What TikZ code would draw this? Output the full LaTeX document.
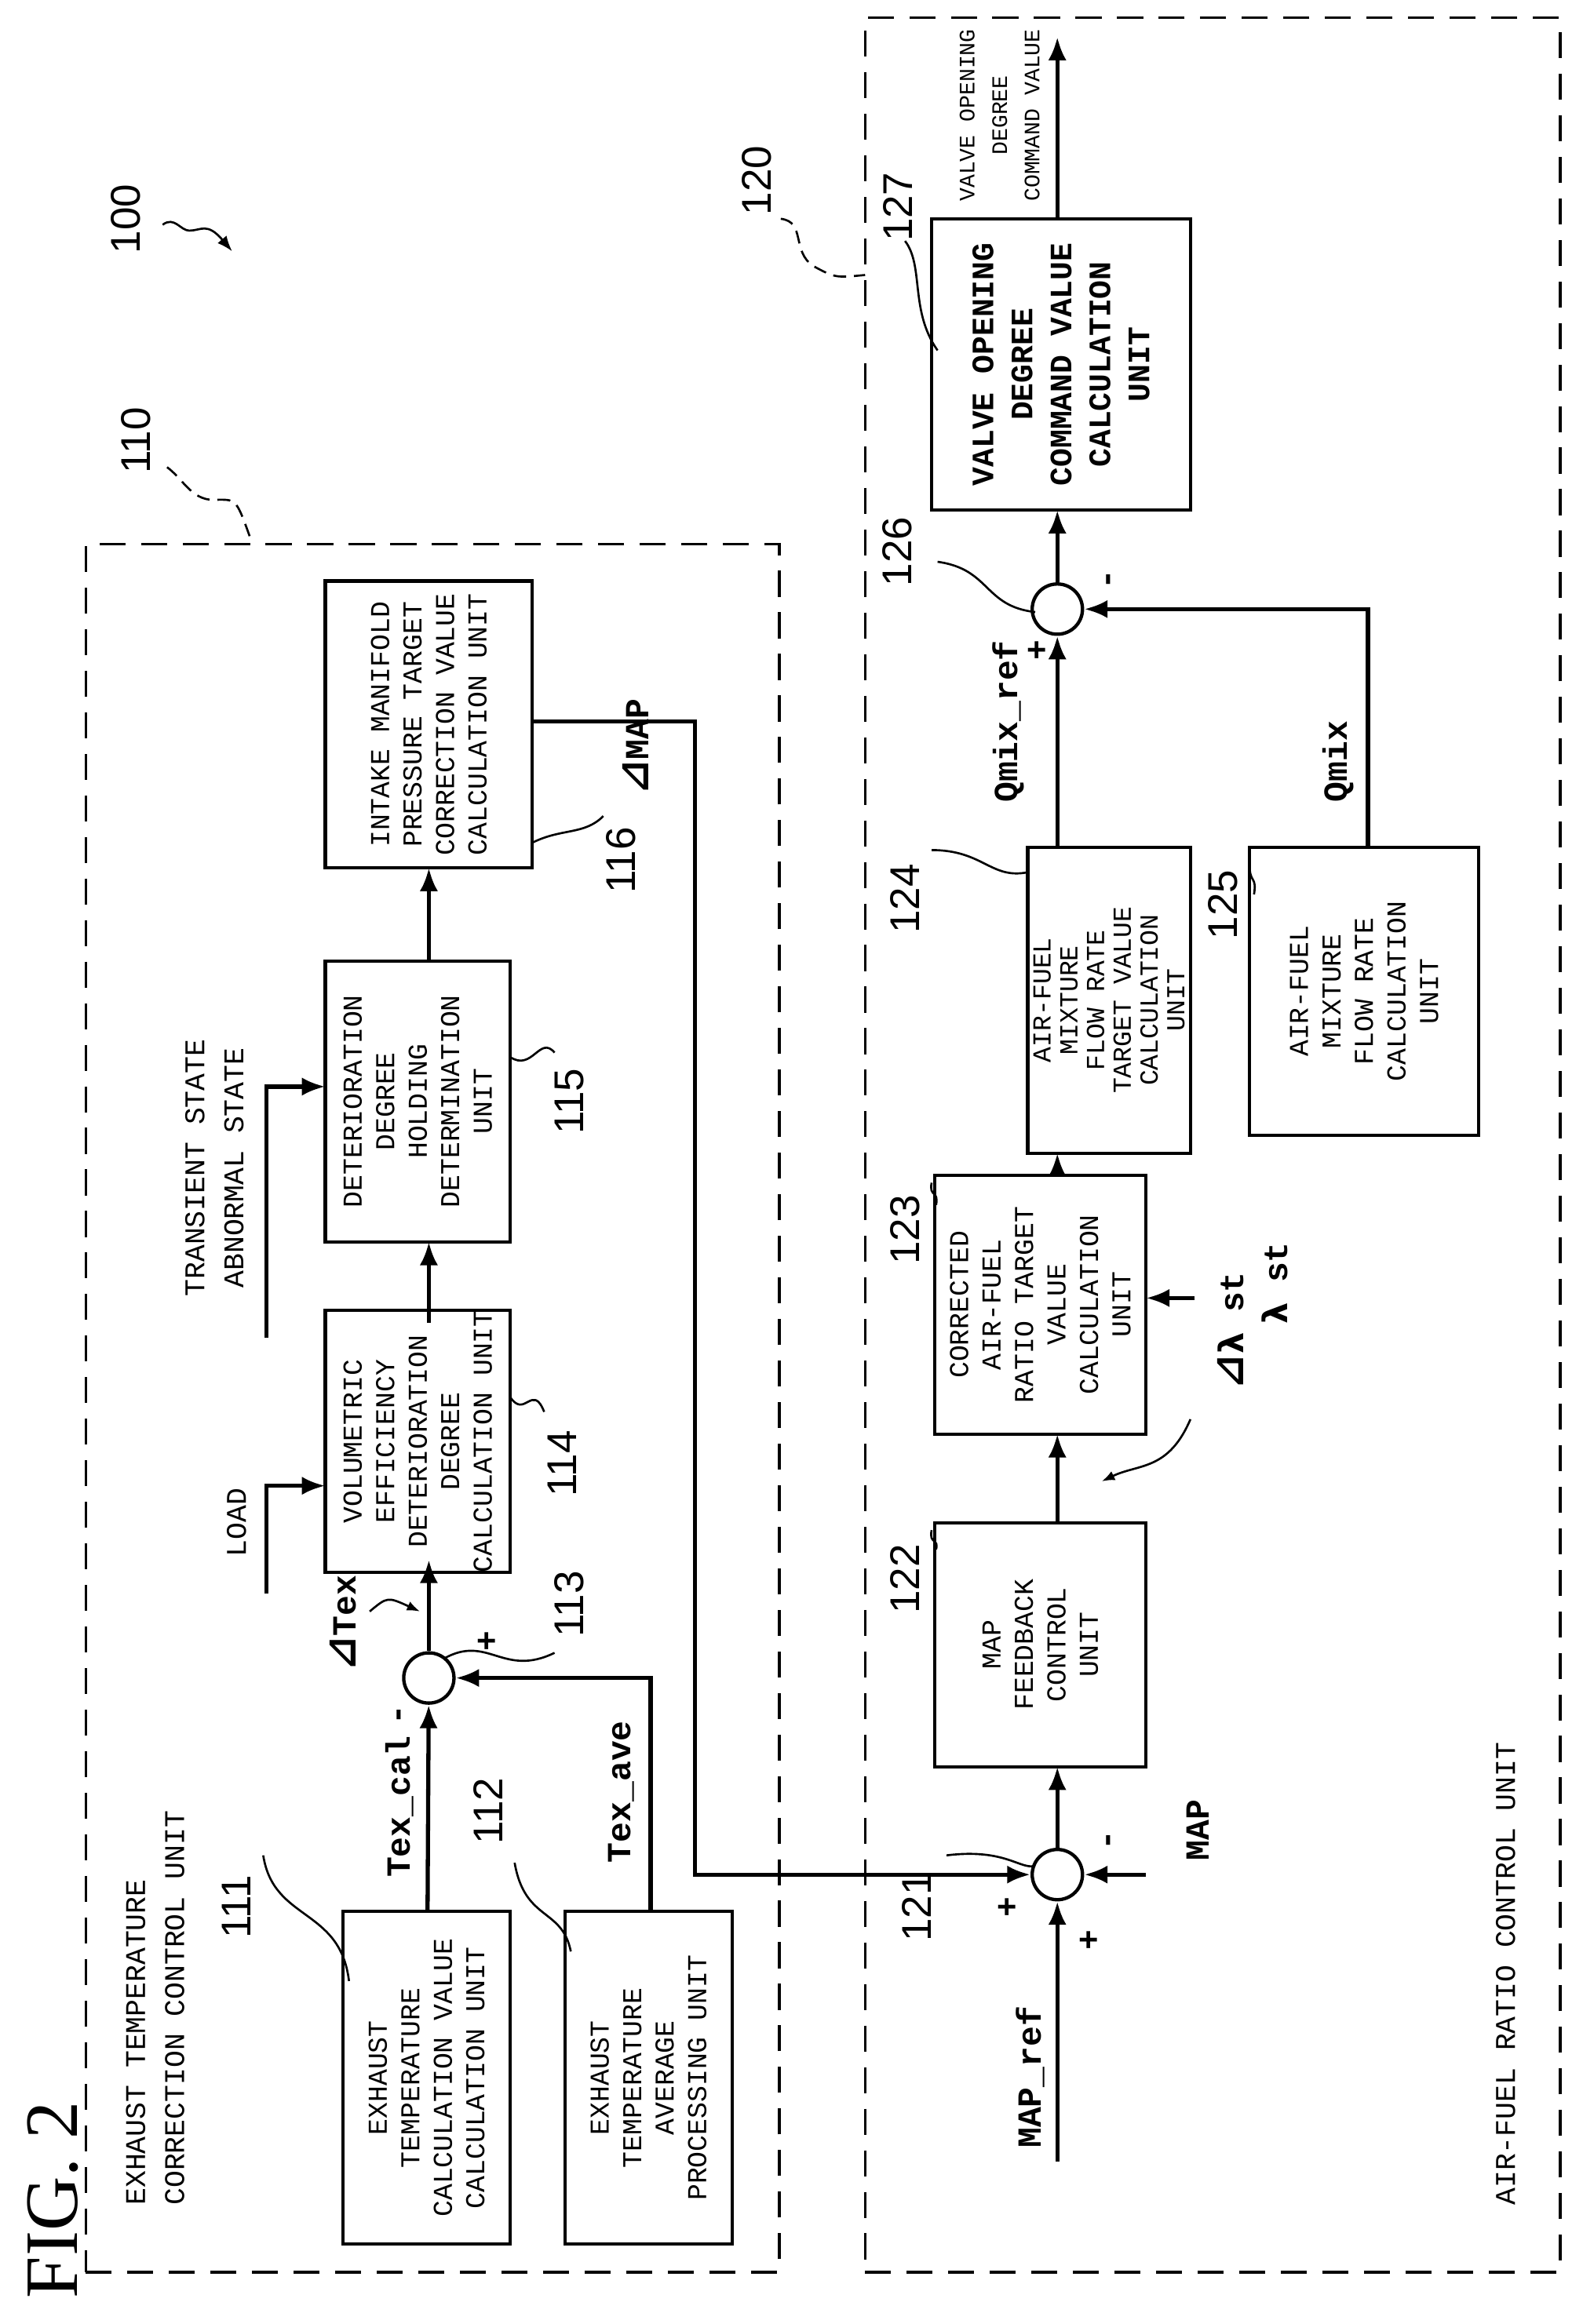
\documentclass[tikz,border=0pt]{standalone}
\usepackage{fontspec}
\usetikzlibrary{arrows.meta}
\newfontfamily\mono{Liberation Mono}
\newfontfamily\sansf{Liberation Sans}
\newfontfamily\serf{Liberation Serif}
\newfontfamily\djv{DejaVu Sans}
\newcommand{\lbl}{\mono\fontsize{10.5}{12.5}\selectfont}
\newcommand{\sig}{\mono\bfseries\fontsize{13}{15}\selectfont}
\newcommand{\num}{\sansf\fontsize{16}{18}\selectfont}
\newcommand{\dlt}{{\djv\fontsize{16}{18}\selectfont ⊿}}
\newcommand{\lam}{{\djv\bfseries λ}}
\begin{document}
\begin{tikzpicture}[x=0.02cm,y=-0.02cm,
  blk/.style={draw,line width=1.3pt,rotate=90,inner sep=0pt,align=center,font=\lbl},
  sum/.style={circle,draw,minimum size=0.68cm,inner sep=0pt,line width=1.3pt},
  arr/.style={-{Latex[length=9pt,width=7pt]},line width=1.6pt},
  lead/.style={line width=0.8pt},
  txt/.style={rotate=90,inner sep=0pt,align=center},
  dbox/.style={draw,line width=1pt,dash pattern=on 10pt off 6pt}]
\useasboundingbox (0,0) rectangle (1070,1572);
% dashed boxes
\node[dbox,minimum width=469*0.02cm,minimum height=1169*0.02cm,inner sep=0] (d110) at (292.5,952.5) {};
\node[dbox,minimum width=470*0.02cm,minimum height=1525*0.02cm,inner sep=0] (d120) at (820,774.5) {};
% titles
\node[txt,font=\serf\fontsize{29}{31}\selectfont] (fig) at (36,1488) {FIG. 2};
\node[txt,anchor=south west,font=\mono\fontsize{11}{15}\selectfont,align=left] (t110) at (125,1492) {EXHAUST TEMPERATURE\\CORRECTION CONTROL UNIT};
\node[txt,anchor=south west,font=\mono\fontsize{11}{15}\selectfont] (t120) at (1025,1492) {AIR-FUEL RATIO CONTROL UNIT};
% reference numerals for groups
\node[txt,font=\num] (n100) at (85,148) {100};
\coordinate (c100) at (157,170);
\draw[lead,-{Latex[length=6pt]}] (110,152) .. controls (118,146) and (122,156) .. (128,156) .. controls (136,156) and (140,150) .. (c100);
\node[txt,font=\num] (n110) at (92,298) {110};
\draw[lead,dash pattern=on 5pt off 3pt] (113,316) .. controls (125,325) and (130,340) .. (148,338) .. controls (160,338) .. (170,366);
\node[txt,font=\num] (n120) at (512,122) {120};
\draw[lead,dash pattern=on 5pt off 3pt] (528,148) .. controls (545,150) and (535,170) .. (550,180) .. controls (565,188) .. (585,186);
% blocks
\node[blk,minimum width=225*0.02cm,minimum height=113*0.02cm] (b111) at (288.5,1405.5) {EXHAUST\\TEMPERATURE\\CALCULATION VALUE\\CALCULATION UNIT};
\node[blk,minimum width=225*0.02cm,minimum height=113*0.02cm] (b112) at (438.5,1405.5) {EXHAUST\\TEMPERATURE\\AVERAGE\\PROCESSING UNIT};
\node[blk,minimum width=160*0.02cm,minimum height=125*0.02cm] (b114) at (282.5,975) {VOLUMETRIC\\EFFICIENCY\\DETERIORATION\\DEGREE\\CALCULATION UNIT};
\node[blk,minimum width=190*0.02cm,minimum height=125*0.02cm] (b115) at (282.5,745) {DETERIORATION\\DEGREE\\HOLDING\\DETERMINATION\\UNIT};
\node[blk,minimum width=194*0.02cm,minimum height=140*0.02cm] (b116) at (290,490) {INTAKE MANIFOLD\\PRESSURE TARGET\\CORRECTION VALUE\\CALCULATION UNIT};
\node[blk,minimum width=165*0.02cm,minimum height=143*0.02cm] (b122) at (703.5,1112.5) {MAP\\FEEDBACK\\CONTROL\\UNIT};
\node[blk,minimum width=175*0.02cm,minimum height=143*0.02cm] (b123) at (703.5,882.5) {CORRECTED\\AIR-FUEL\\RATIO TARGET\\VALUE\\CALCULATION\\UNIT};
\node[blk,minimum width=207*0.02cm,minimum height=110*0.02cm,font=\mono\fontsize{10}{10.3}\selectfont] (b124) at (750,676.5) {AIR-FUEL\\MIXTURE\\FLOW RATE\\TARGET VALUE\\CALCULATION\\UNIT};
\node[blk,minimum width=195*0.02cm,minimum height=155*0.02cm] (b125) at (922.5,670.5) {AIR-FUEL\\MIXTURE\\FLOW RATE\\CALCULATION\\UNIT};
\node[blk,minimum width=197*0.02cm,minimum height=175*0.02cm,font=\mono\bfseries\fontsize{12}{15}\selectfont] (b127) at (717.5,246.5) {VALVE OPENING\\DEGREE\\COMMAND VALUE\\CALCULATION\\UNIT};
% summing points
\node[sum] (s113) at (290,1135) {};
\node[sum] (s121) at (715,1268) {};
\node[sum] (s126) at (715,412) {};
% helper coordinates
\coordinate (c112a) at (440,1293);
\coordinate (c112) at (440,1135);
\coordinate (cload0) at (180,1078);
\coordinate (cload1) at (180,1005);
\coordinate (ctr0) at (180,905);
\coordinate (ctr1) at (180,735);
\coordinate (cmap0) at (470,488);
\coordinate (cmap1) at (470,1268);
\coordinate (cref) at (715,1462);
\coordinate (cmapin) at (775,1268);
\coordinate (clam) at (808,878);
\coordinate (c125) at (925,412);
\coordinate (cout) at (715,25);
% connectors
\draw[arr] (b111) -- (s113);
\draw[arr] (c112a) -- (c112) -- (s113);
\draw[arr] (s113) -- (290,1055);
\draw[arr] (cload0) -- (cload1) -- (220,1005);
\draw[arr] (ctr0) -- (ctr1) -- (220,735);
\draw[arr] (290,895) -- (290,840);
\draw[arr] (290,650) -- (290,587);
\draw[arr] (360,488) -- (cmap0) -- (cmap1) -- (s121);
\draw[arr] (cref) -- (s121);
\draw[arr] (cmapin) -- (s121);
\draw[arr] (s121) -- (715,1195);
\draw[arr] (715,1030) -- (715,970);
\draw[arr] (clam) -- (775,878);
\draw[arr] (715,795) -- (715,780);
\draw[arr] (715,573) -- (s126);
\draw[arr] (925,573) -- (c125) -- (s126);
\draw[arr] (s126) -- (715,345);
\draw[arr] (715,148) -- (cout);
% signal labels
\node[txt,font=\sig] (lcal) at (270,1222) {Tex\_cal};
\node[txt,font=\sig] (lm113) at (272,1160) {-};
\node[txt,font=\sig] (lave) at (420,1212) {Tex\_ave};
\node[txt,font=\sig] (lp113) at (330,1110) {+};
\node[txt,font=\sig] (ldtex) at (232,1098) {\dlt Tex};
\draw[lead,-{Latex[length=5pt]}] (250,1090) .. controls (262,1080) .. (284,1090);
\node[txt,font=\mono\fontsize{11}{13}\selectfont] (lload) at (160,1030) {LOAD};
\node[txt,font=\mono\fontsize{11}{15}\selectfont] (ltr) at (145,790) {TRANSIENT STATE\\ABNORMAL STATE};
\node[txt,font=\sig] (ldmap) at (430,505) {\dlt MAP};
\node[txt,font=\sig] (lref) at (697,1405) {MAP\_ref};
\node[txt,font=\sig] (lmap) at (810,1238) {MAP};
\node[txt,font=\sig] (lm121) at (752,1245) {-};
\node[txt,font=\sig] (lp121a) at (682,1290) {+};
\node[txt,font=\sig] (lp121b) at (737,1312) {+};
\node[txt,font=\sig] (ldl) at (832,900) {\dlt\lam{} st};
\draw[lead,-{Latex[length=5pt]}] (805,960) .. controls (790,995) and (770,990) .. (745,1002);
\node[txt,font=\sig] (llam) at (862,868) {\lam{} st};
\node[txt,font=\sig] (lqref) at (682,488) {Qmix\_ref};
\node[txt,font=\sig] (lp126) at (702,440) {+};
\node[txt,font=\sig] (lqmix) at (905,515) {Qmix};
\node[txt,font=\sig] (lm126) at (752,392) {-};
\node[txt,font=\mono\fontsize{8.5}{12.5}\selectfont] (lout) at (676,78) {VALVE OPENING\\DEGREE\\COMMAND VALUE};
% numerals
\node[txt,font=\num] (n111) at (160,1290) {111};
\draw[lead] (178,1255) .. controls (185,1300) and (230,1290) .. (236,1340);
\node[txt,font=\num] (n112) at (330,1225) {112};
\draw[lead] (348,1260) .. controls (355,1300) and (380,1290) .. (386,1320);
\node[txt,font=\num] (n113) at (385,1085) {113};
\draw[lead] (375,1118) .. controls (340,1135) and (330,1105) .. (300,1122);
\node[txt,font=\num] (n114) at (380,990) {114};
\draw[lead] (368,955) .. controls (360,935) and (355,960) .. (345,945);
\node[txt,font=\num] (n115) at (385,745) {115};
\draw[lead] (375,712) .. controls (365,700) and (360,725) .. (345,715);
\node[txt,font=\num] (n116) at (420,582) {116};
\draw[lead] (408,552) .. controls (395,565) and (380,560) .. (360,570);
\node[txt,font=\num] (n121) at (620,1290) {121};
\draw[lead] (640,1255) .. controls (680,1250) and (690,1265) .. (700,1262);
\node[txt,font=\num] (n122) at (612,1068) {122};
\draw[lead] (630,1035) .. controls (628,1045) and (635,1040) .. (633,1048);
\node[txt,font=\num] (n123) at (612,832) {123};
\draw[lead] (630,800) .. controls (628,810) and (635,805) .. (633,815);
\node[txt,font=\num] (n124) at (612,608) {124};
\draw[lead] (630,575) .. controls (665,575) and (670,595) .. (695,590);
\node[txt,font=\num] (n125) at (827,612) {125};
\draw[lead] (845,585) .. controls (845,598) and (850,592) .. (848,605);
\node[txt,font=\num] (n126) at (607,373) {126};
\draw[lead] (634,380) .. controls (670,385) and (665,410) .. (700,414);
\node[txt,font=\num] (n127) at (607,140) {127};
\draw[lead] (612,163) .. controls (625,180) and (615,210) .. (634,237);
\end{tikzpicture}
\end{document}
